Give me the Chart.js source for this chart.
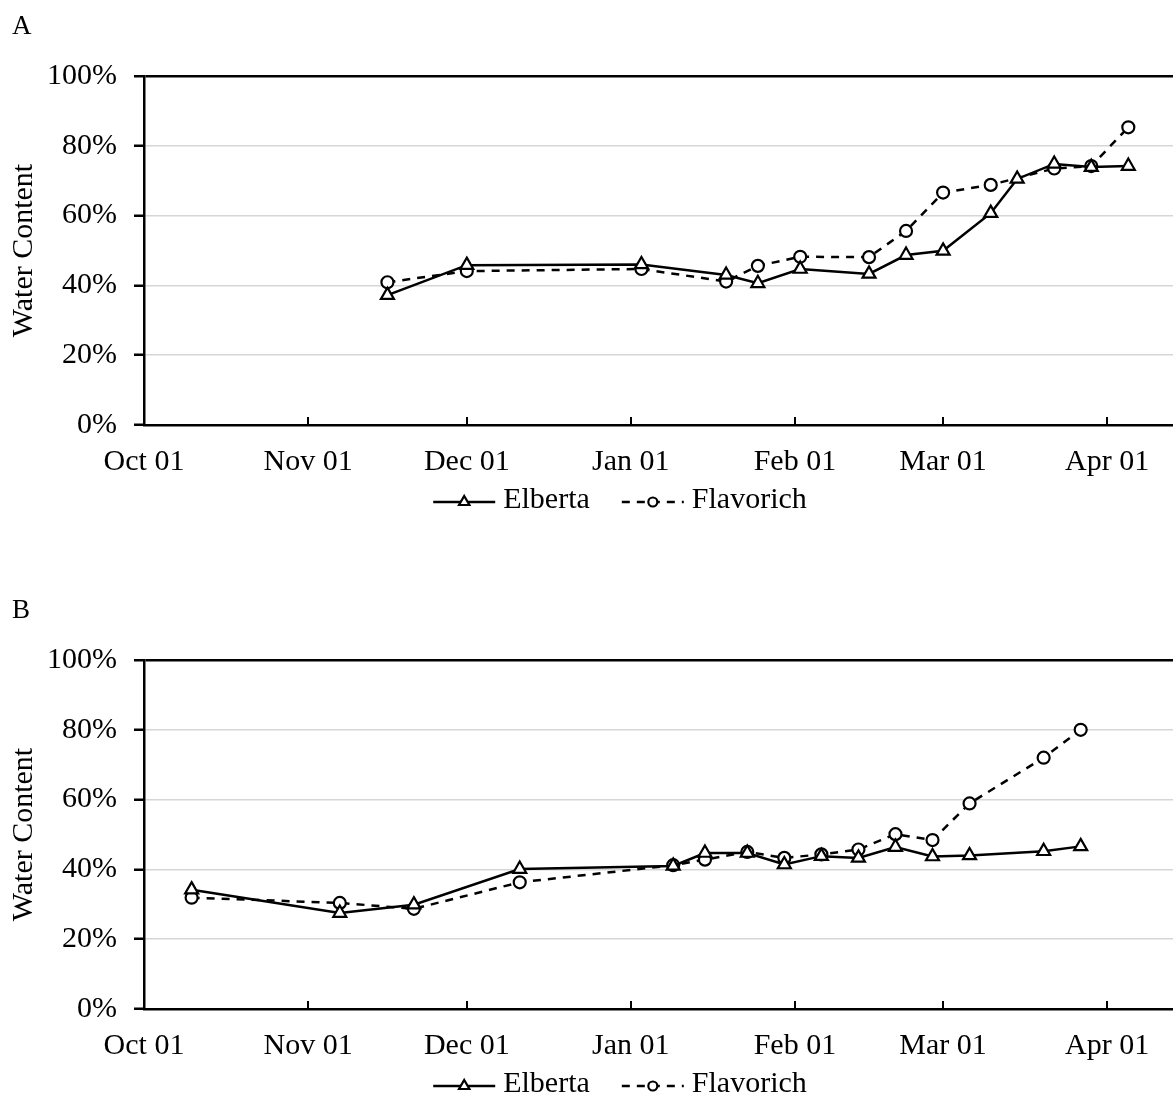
<!DOCTYPE html>
<html>
<head>
<meta charset="utf-8">
<script src="https://cdn.jsdelivr.net/npm/chart.js@4.4.1/dist/chart.umd.min.js"></script>
<style>
  html, body { margin: 0; padding: 0; background: #fff; }
  #wrap { position: relative; width: 1173px; height: 1095px; overflow: hidden; }
  canvas { position: absolute; left: 0; }
</style>
</head>
<body>
<div id="wrap">
  <!-- canvases run a little past the right edge so the plot area reaches it -->
  <canvas id="chartA" width="1183" height="584" style="top:0"></canvas>
  <canvas id="chartB" width="1183" height="511" style="top:584px"></canvas>
</div>
<script>
// days counted from Oct 01
const monthDays = [0, 31, 61, 92, 123, 151, 182];
const monthLabels = ['Oct 01', 'Nov 01', 'Dec 01', 'Jan 01', 'Feb 01', 'Mar 01', 'Apr 01'];
const yTicks = [0, 20, 40, 60, 80, 100];

// panel A
const daysA = [46, 61, 94, 110, 116, 124, 137, 144, 151, 160, 165, 172, 179, 186];
const elbertaA = [37.2, 45.8, 46.0, 43.0, 40.6, 44.7, 43.3, 48.7, 49.9, 60.7, 70.5, 74.8, 73.9, 74.2];
const flavorichA = [40.9, 44.1, 44.7, 41.1, 45.6, 48.2, 48.1, 55.6, 66.6, 68.8, null, 73.5, 74.2, 85.3];

// panel B
const daysB = [9, 37, 51, 71, 100, 106, 114, 121, 128, 135, 142, 149, 156, 170, 177];
const elbertaB = [34.2, 27.5, 29.9, 40.1, 41.0, 44.7, 44.7, 41.4, 43.8, 43.3, 46.4, 43.7, 44.0, 45.2, 46.6];
const flavorichB = [31.9, 30.4, 28.7, 36.3, 41.2, 42.8, 45.0, 43.3, 44.3, 45.7, 50.1, 48.4, 58.9, 72.0, 80.0];

const FONT = 'Liberation Serif, Times New Roman, serif';

function toPoints(days, values) {
    return days.map((d, i) => ({ x: d, y: values[i] }));
}

// inward x ticks, line+marker legend and the panel letter
const panelDecor = {
    id: 'panelDecor',
    afterDraw(chart, args, opts) {
        const ctx = chart.ctx;
        const x = chart.scales.x;
        const area = chart.chartArea;
        ctx.save();

        // x tick marks pointing up into the plot
        ctx.strokeStyle = '#000';
        ctx.lineWidth = 2;
        monthDays.forEach(d => {
            if (d === 0) return;
            const px = Math.round(x.getPixelForValue(d));
            ctx.beginPath();
            ctx.moveTo(px, area.bottom);
            ctx.lineTo(px, area.bottom - 8);
            ctx.stroke();
        });

        // legend
        ctx.font = '30px ' + FONT;
        ctx.fillStyle = '#000';
        ctx.textBaseline = 'alphabetic';
        const lineLen = 62;
        const gap = 8;
        const itemGap = 32;
        const metas = chart.data.datasets.map(ds => ({ ds, w: lineLen + gap + ctx.measureText(ds.label).width }));
        const total = metas.reduce((s, m) => s + m.w, 0) + itemGap * (metas.length - 1);
        let lx = opts.legendCenter - total / 2;
        const ly = area.bottom + 77;
        metas.forEach(m => {
            const ds = m.ds;
            ctx.save();
            ctx.strokeStyle = ds.borderColor;
            ctx.lineWidth = ds.borderWidth;
            ctx.setLineDash(ds.borderDash || []);
            ctx.beginPath();
            ctx.moveTo(lx, ly);
            ctx.lineTo(lx + lineLen, ly);
            ctx.stroke();
            ctx.setLineDash([]);
            ctx.fillStyle = ds.pointBackgroundColor;
            ctx.strokeStyle = ds.pointBorderColor;
            ctx.lineWidth = ds.pointBorderWidth;
            Chart.helpers.drawPoint(ctx, {
                pointStyle: ds.pointStyle,
                rotation: 0,
                radius: ds.pointRadius - 1.5,
                borderWidth: ds.pointBorderWidth
            }, lx + lineLen / 2, ly);
            ctx.restore();
            ctx.fillText(ds.label, lx + lineLen + gap, ly + 6);
            lx += m.w + itemGap;
        });

        // panel letter
        ctx.font = '27px ' + FONT;
        ctx.fillText(opts.letter, 12, 34);
        ctx.restore();
    }
};

function makePanel(id, letter, days, elberta, flavorich) {
    const canvas = document.getElementById(id);
    const h = canvas.height;
    return new Chart(canvas, {
        type: 'line',
        data: {
            datasets: [{
                label: 'Elberta',
                data: toPoints(days, elberta),
                borderColor: '#000',
                borderWidth: 2.5,
                pointStyle: 'triangle',
                pointRadius: 7.5,
                pointBorderWidth: 2.2,
                pointBorderColor: '#000',
                pointBackgroundColor: '#fff',
                spanGaps: true
            }, {
                label: 'Flavorich',
                data: toPoints(days, flavorich),
                borderColor: '#000',
                borderWidth: 2.5,
                borderDash: [8, 7],
                pointStyle: 'circle',
                pointRadius: 6,
                pointBorderWidth: 2.2,
                pointBorderColor: '#000',
                pointBackgroundColor: '#fff',
                spanGaps: true
            }]
        },
        options: {
            responsive: false,
            animation: false,
            layout: { padding: { top: 76, left: 0, right: 0, bottom: h - 425 - 60 } },
            plugins: {
                legend: { display: false },
                tooltip: { enabled: false },
                panelDecor: { letter: letter, legendCenter: 620 }
            },
            scales: {
                x: {
                    type: 'linear',
                    min: 0,
                    max: 194.5,
                    afterBuildTicks: scale => { scale.ticks = monthDays.map(v => ({ value: v })); },
                    afterFit: scale => {
                        scale.height = 60;
                        scale.paddingLeft = 0;
                        scale.paddingRight = 0;
                    },
                    border: { color: '#000', width: 2.5 },
                    grid: { drawOnChartArea: false, drawTicks: false },
                    ticks: {
                        autoSkip: false,
                        maxRotation: 0,
                        padding: 19,
                        color: '#000',
                        font: { family: FONT, size: 30 },
                        callback: v => monthLabels[monthDays.indexOf(v)]
                    }
                },
                y: {
                    min: 0,
                    max: 100,
                    afterBuildTicks: scale => { scale.ticks = yTicks.map(v => ({ value: v })); },
                    afterFit: scale => { scale.width = 144; },
                    border: { color: '#000', width: 2.5 },
                    grid: {
                        color: c => c.tick.value === 100 ? '#000' : (c.tick.value === 0 ? 'rgba(0,0,0,0)' : '#d6d6d6'),
                        lineWidth: c => c.tick.value === 100 ? 2.5 : 1.5,
                        tickColor: '#000',
                        tickWidth: 2.5,
                        tickLength: 10
                    },
                    ticks: {
                        padding: 17,
                        color: '#000',
                        font: { family: FONT, size: 30 },
                        callback: v => v + '%'
                    },
                    title: {
                        display: true,
                        text: 'Water Content',
                        color: '#000',
                        font: { family: FONT, size: 30, lineHeight: 1 },
                        padding: { top: 9, bottom: 0 }
                    }
                }
            }
        },
        plugins: [panelDecor]
    });
}

makePanel('chartA', 'A', daysA, elbertaA, flavorichA);
makePanel('chartB', 'B', daysB, elbertaB, flavorichB);
</script>
</body>
</html>
